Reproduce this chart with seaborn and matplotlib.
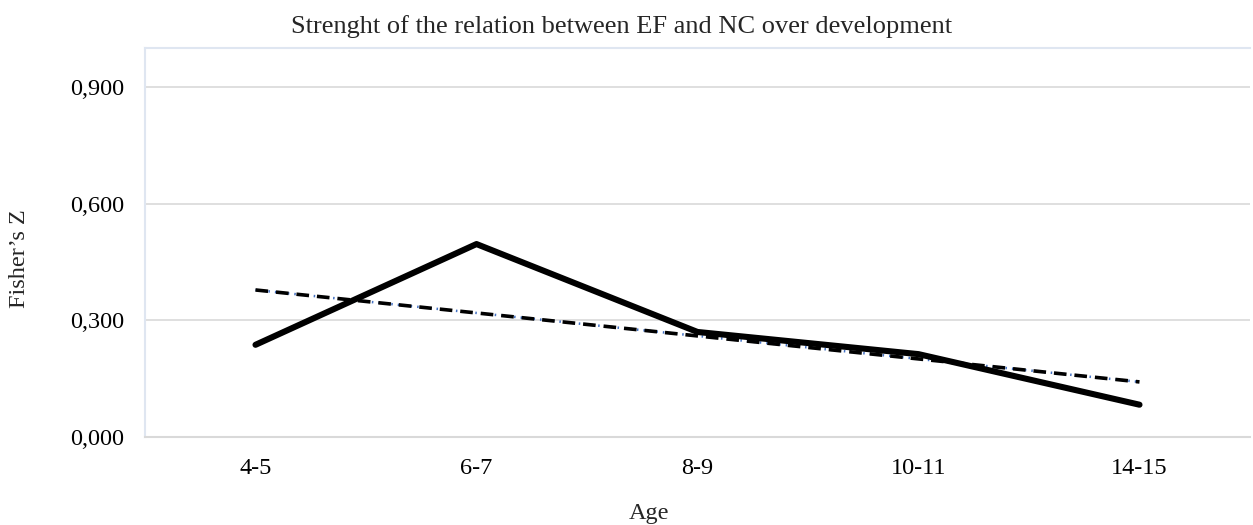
import numpy as np
import pandas as pd
import matplotlib
matplotlib.use("Agg")
import matplotlib.pyplot as plt
import seaborn as sns

ages = ["4-5", "6-7", "8-9", "10-11", "14-15"]
fisher_z = [0.237, 0.496, 0.270, 0.213, 0.083]
y_ticks = [0.0, 0.3, 0.6, 0.9]
y_tick_labels = ["0,000", "0,300", "0,600", "0,900"]

sns.set_theme(style="white")
plt.rcParams['font.family'] = ['Liberation Serif', 'DejaVu Serif']

df = pd.DataFrame({"pos": np.arange(len(ages)), "z": fisher_z})

fig = plt.figure(figsize=(12.53, 5.25), dpi=100)
ax = fig.add_axes([145/1253, 88/525, 1105/1253, 389/525])

ax.set_ylim(0, 1.0)
ax.set_xlim(-0.5, len(ages) - 0.5)
for t in y_ticks[1:]:
    ax.axhline(t, color="#d9d9d9", lw=1.2, zorder=0)

# trendline (blue dotted under black dashed, Excel style)
sns.regplot(data=df, x="pos", y="z", scatter=False, ci=None, truncate=True, ax=ax,
            line_kws=dict(color="#4472c4", lw=1.8, linestyle=(0, (0.6, 2.0)), zorder=2))
sns.regplot(data=df, x="pos", y="z", scatter=False, ci=None, truncate=True, ax=ax,
            line_kws=dict(color="black", lw=2.6, linestyle=(0, (3.5, 2.2)), zorder=3))

sns.lineplot(data=df, x="pos", y="z", ax=ax, color="black", lw=4.4, zorder=4,
             solid_capstyle="round", solid_joinstyle="round")

ax.set_xlim(-0.5, len(ages) - 0.5)
ax.set_ylim(0, 1.0)
ax.set_xticks(np.arange(len(ages)))
ax.set_xticklabels(ages, fontsize=17.5)
ax.set_yticks(y_ticks)
ax.set_yticklabels(y_tick_labels, fontsize=17.5)
ax.tick_params(axis="y", length=0, pad=15, colors="black")
ax.tick_params(axis="x", length=0, pad=15, colors="black")
ax.set_xlabel("")
ax.set_ylabel("")

ax.spines["right"].set_visible(False)
ax.spines["left"].set_color("#dfe6f1")
ax.spines["left"].set_linewidth(1.5)
ax.spines["top"].set_color("#dfe6f1")
ax.spines["top"].set_linewidth(1.5)
ax.spines["bottom"].set_color("#d9d9d9")
ax.spines["bottom"].set_linewidth(1.5)

fig.text(621.5/1253, 1 - 27/525, "Strenght of the relation between EF and NC over development",
         ha="center", va="center", fontsize=19)
fig.text(649/1253, 1 - 513/525, "Age", ha="center", va="center", fontsize=17.5)
fig.text(20/1253, 1 - 259/525, "Fisher\u2019s Z", ha="center", va="center", rotation=90, fontsize=17.5)

fig.savefig("out.png", dpi=100, facecolor="white")
